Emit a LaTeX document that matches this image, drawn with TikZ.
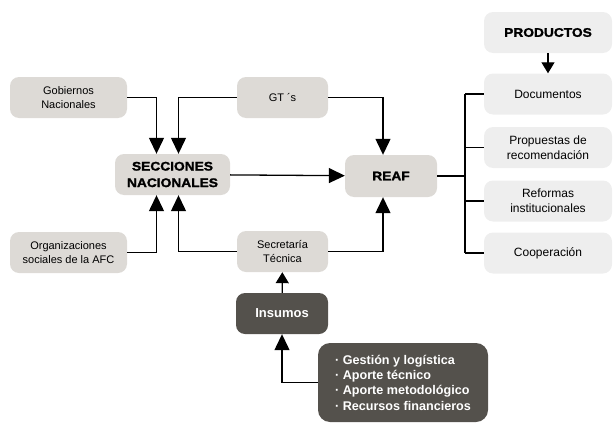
\documentclass[tikz,border=0pt]{standalone}
\usepackage{fontspec}
\setmainfont{Liberation Sans}
\newfontfamily\heavy{Liberation Sans}[BoldFeatures={FakeBold=1.6,FakeStretch=1.1}]
\usetikzlibrary{arrows.meta}

\definecolor{boxgray}{RGB}{221,218,214}
\definecolor{prodgray}{RGB}{238,238,238}
\definecolor{darkbox}{RGB}{84,81,76}

\begin{document}
\begin{tikzpicture}[x=1pt, y=-1pt,
  box/.style={rectangle, rounded corners=9pt, fill=boxgray, minimum width=117pt, minimum height=41pt, align=center, inner sep=2pt, font=\fontsize{11}{14.5}\selectfont},
  head/.style={box, font=\fontsize{12.5}{16.5}\selectfont\heavy\bfseries},
  prodbox/.style={box, fill=prodgray, minimum width=128pt, font=\fontsize{12}{15}\selectfont},
  darknode/.style={box, fill=darkbox, text=white, font=\fontsize{13}{15}\selectfont\bfseries},
  arrow/.style={-{Triangle[width=15pt,length=16pt]}, line width=1.3pt},
  smallarrow/.style={-{Triangle[width=13pt,length=11pt]}, line width=1.3pt},
  line/.style={line width=1.3pt}
]
\useasboundingbox (0,0) rectangle (613,423);

\node[box] (gob) at (68.5,97.5) {Gobiernos\\Nacionales};
\node[box, minimum width=91pt] (gt) at (282.5,97.5) {GT ´s};
\node[head, minimum width=115pt] (sn) at (172.5,174.5) {SECCIONES\\NACIONALES};
\node[box] (org) at (68.5,252.5) {Organizaciones\\sociales de la AFC};
\node[box, minimum width=91pt] (sec) at (282.5,251.5) {Secretaría\\Técnica};
\node[head, minimum width=92pt, minimum height=42pt] (reaf) at (391,176) {REAF};

\node[prodbox, font=\fontsize{12.5}{16}\selectfont\heavy\bfseries] (prod) at (548,32.5) {PRODUCTOS};
\node[prodbox] (doc) at (548,94) {Documentos};
\node[prodbox] (prop) at (548,147.5) {Propuestas de\\recomendación};
\node[prodbox] (ref) at (548,201) {Reformas\\institucionales};
\node[prodbox] (coop) at (548,253) {Cooperación};

\node[darknode, minimum width=92pt] (ins) at (282,313.5) {Insumos};
\node[darknode, rounded corners=12pt, minimum width=170pt, minimum height=79pt, align=left, font=\fontsize{12.6}{15.3}\selectfont\bfseries] (bul) at (403,382.5)
  {· Gestión y logística\\· Aporte técnico\\· Aporte metodológico\\· Recursos financieros};

\coordinate (br) at (465,176);

\draw[arrow] (gob.east) -| ([xshift=-16pt]sn.north);
\draw[arrow] (gt.west) -| ([xshift=6pt]sn.north);
\draw[arrow] (org.east) -| ([xshift=-16pt]sn.south);
\draw[arrow] (sec.west) -| ([xshift=6pt]sn.south);
\draw[arrow] (sn) -- (reaf);
\draw[arrow] (gt.east) -| ([xshift=-8pt]reaf.north);
\draw[arrow] (sec.east) -| ([xshift=-8pt]reaf.south);

% salida hacia los productos
\draw[line] (reaf) -- (br);
\draw[line] (br |- doc.west) -- (br |- coop.west);
\foreach \n in {doc,prop,ref,coop}
  \draw[line] (br |- \n.west) -- (\n.west);
\draw[smallarrow] (prod) -- (doc);

% insumos
\draw[smallarrow] (ins) -- (sec);
\draw[arrow] (bul.west) -| (ins.south);
\end{tikzpicture}
\end{document}
